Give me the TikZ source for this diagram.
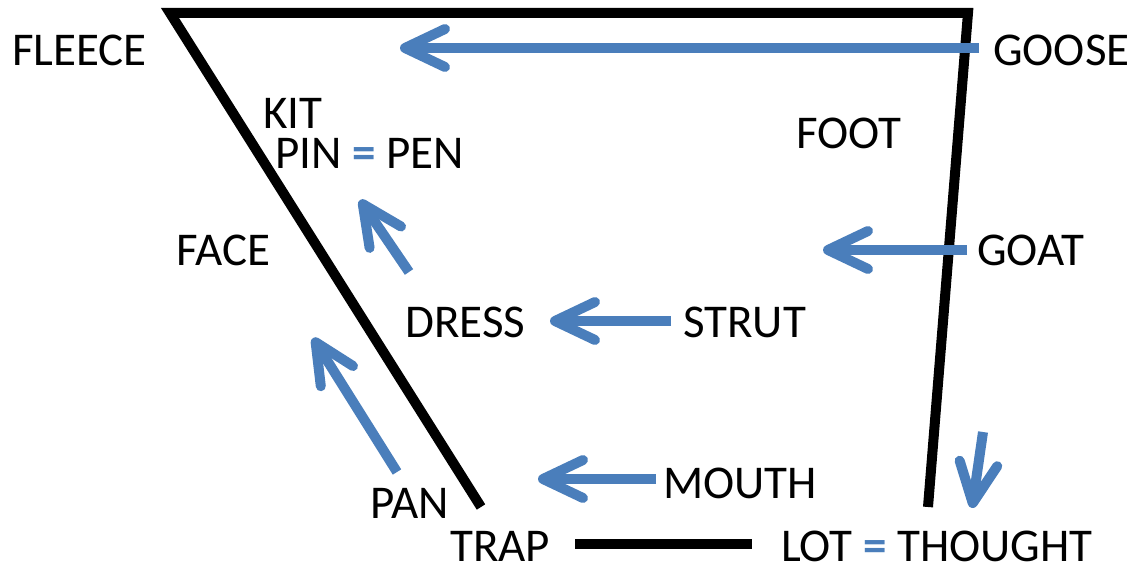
\documentclass[tikz,border=0pt]{standalone}
\usepackage{fontspec}
\setmainfont{Carlito}
\usetikzlibrary{arrows.meta}
\definecolor{vowelblue}{RGB}{74,126,187}
\tikzset{
  frame/.style={line width=10pt, black, line join=miter},
  vowelshift/.style={line width=10pt, vowelblue,
    -{Straight Barb[round, length=40pt, width=38pt]}},
  word/.style={anchor=west, inner sep=0pt, font=\fontsize{47}{50}\selectfont},
}
\newcommand{\eqsign}{\textcolor{vowelblue}{\bfseries =}}
\begin{document}
\begin{tikzpicture}[x=1pt, y=-1pt]
  \useasboundingbox (0,0) rectangle (1141,564);

  % vowel quadrilateral
  \coordinate (tl) at (170,13);
  \coordinate (tr) at (968,13);
  \coordinate (br) at (928,507);
  \coordinate (bl) at (481,507);
  \coordinate (bot1) at (575,544);
  \coordinate (bot2) at (752,544);
  \draw[frame] (bl) -- (tl) -- (tr) -- (br);
  \draw[frame] (bot1) -- (bot2);

  % lexical sets
  \node[word] (fleece) at (12,50) {FLEECE};
  \node[word] (goose) at (993,50) {GOOSE};
  \node[word] (kit) at (263,113) {KIT};
  \node[word] (pinpen) at (275,153) {PIN \eqsign{} PEN};
  \node[word] (foot) at (796,133) {FOOT};
  \node[word] (face) at (176,250) {FACE};
  \node[word] (goat) at (977,250) {GOAT};
  \node[word] (dress) at (405,322) {DRESS};
  \node[word] (strut) at (683,322) {STRUT};
  \node[word] (mouth) at (663,483) {MOUTH};
  \node[word] (pan) at (370,503) {PAN};
  \node[word] (trap) at (450,546) {TRAP};
  \node[word] (lotthought) at (781,546) {LOT \eqsign{} THOUGHT};

  % shifts
  \coordinate (gooseS) at (979,48);  \coordinate (gooseE) at (400,48);
  \coordinate (goatS) at (967,250);  \coordinate (goatE) at (823,250);
  \coordinate (strutS) at (671,321); \coordinate (strutE) at (550,321);
  \coordinate (mouthS) at (656,479); \coordinate (mouthE) at (538,479);
  \coordinate (dressS) at (409,272); \coordinate (dressE) at (360,200);
  \coordinate (panS) at (397,472);   \coordinate (panE) at (313,338);
  \coordinate (lotS) at (983,432);   \coordinate (lotE) at (972,508);

  \draw[vowelshift] (gooseS) -- (gooseE);
  \draw[vowelshift] (goatS) -- (goatE);
  \draw[vowelshift] (strutS) -- (strutE);
  \draw[vowelshift] (mouthS) -- (mouthE);
  \draw[vowelshift] (dressS) -- (dressE);
  \draw[vowelshift] (panS) -- (panE);
  \draw[vowelshift] (lotS) -- (lotE);
\end{tikzpicture}
\end{document}
